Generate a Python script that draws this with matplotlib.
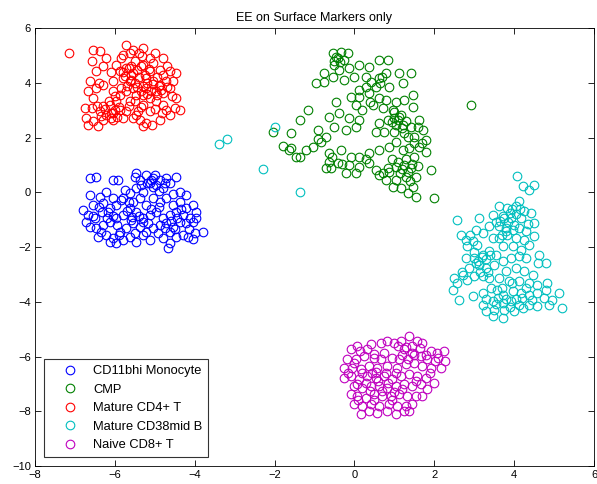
import matplotlib
matplotlib.use("Agg")
import matplotlib.pyplot as plt

plt.rcParams['font.family'] = ['Liberation Sans', 'DejaVu Sans']

labels = ["CD11bhi Monocyte", "CMP", "Mature CD4+ T", "Mature CD38mid B", "Naive CD8+ T"]
colors = ["#0000ff", "#008000", "#ff0000", "#00bfbf", "#bf00bf"]

# embedded coordinates (x, y) per population
mono_pts = [
    (-6.625, 0.51), (-6.46, 0.57), (-6.04, 0.45), (-5.92, 0.45), (-5.46, 0.69), (-5.21, 0.63),
    (-5.04, 0.51), (-4.875, 0.45), (-4.71, 0.51), (-4.46, 0.57), (-5.125, 0.33), (-4.96, 0.26),
    (-4.79, 0.14), (-4.625, 0.33), (-4.375, 0.02), (-4.21, -0.10), (-6.625, -0.10), (-6.375, -0.16),
    (-6.21, 0.02), (-6.04, -0.22), (-6.29, -0.41), (-6.54, -0.47), (-6.79, -0.65), (-6.67, -0.83),
    (-6.5, -0.95), (-6.33, -0.71), (-6.125, -0.59), (-5.96, -0.47), (-5.79, -0.22), (-5.625, -0.04),
    (-5.46, 0.14), (-5.29, 0.02), (-5.54, -0.34), (-5.375, -0.22), (-5.21, -0.47), (-5.04, -0.22),
    (-4.875, -0.34), (-4.71, -0.22), (-4.54, -0.47), (-4.375, -0.34), (-4.21, -0.59), (-4.04, -0.47),
    (-3.96, -0.71), (-4.125, -0.95), (-4.29, -0.83), (-4.46, -0.71), (-4.625, -0.83), (-4.79, -0.95),
    (-4.96, -0.71), (-5.125, -0.83), (-5.29, -0.95), (-5.46, -0.71), (-5.625, -0.59), (-5.79, -0.83),
    (-5.96, -0.95), (-6.125, -1.08), (-6.29, -1.20), (-6.46, -1.32), (-6.625, -1.26), (-6.71, -1.08),
    (-6.21, -1.56), (-6.04, -1.68), (-5.875, -1.44), (-5.71, -1.32), (-5.54, -1.14), (-5.375, -1.26),
    (-5.21, -1.44), (-5.04, -1.32), (-4.875, -1.20), (-4.71, -1.14), (-4.54, -1.26), (-4.375, -1.08),
    (-4.21, -1.14), (-4.04, -1.08), (-3.96, -0.95), (-5.29, -1.56), (-5.125, -1.74), (-5.46, -1.81),
    (-5.625, -1.62), (-5.79, -1.74), (-5.96, -1.87), (-6.125, -1.81), (-4.79, -1.68), (-4.625, -1.87),
    (-4.67, -2.05), (-4.46, -1.62), (-4.29, -1.56), (-4.17, -1.62), (-4.0, -1.50), (-3.79, -1.44),
    (-6.42, -1.62), (-5.5, 0.57), (-5.0, 0.63), (-5.375, 0.45), (-5.75, 0.08), (-6.17, -0.71),
    (-5.58, -0.89), (-4.625, -1.44), (-5.17, -1.14), (-4.92, -1.50),
    (-5.2, 0.35), (-5.05, 0.2), (-4.9, 0.05), (-5.35, 0.25), (-5.1, 0.45), (-4.75, 0.35),
    (-4.55, -0.05), (-4.45, -0.95), (-4.6, -1.05), (-4.75, -1.3), (-4.5, -1.35), (-4.35, -0.6),
    (-5.4, -0.85), (-5.6, -1.0), (-5.7, -0.7), (-5.95, -1.2), (-6.05, -0.85), (-6.2, -0.95),
    (-6.4, -0.55), (-6.55, -0.85), (-5.85, -0.3), (-5.65, -0.35), (-5.1, -0.6), (-4.9, -0.55),
    (-5.3, -1.1), (-5.9, -1.55), (-4.15, -1.35), (-4.05, -1.7), (-6.35, -1.45), (-5.5, -1.5),
]

cmp_pts = [
    (-0.54, 5.08), (-0.33, 5.14), (-0.17, 5.08), (-0.42, 4.89), (-0.25, 4.83), (-0.5, 4.65),
    (-0.375, 4.47), (-0.125, 4.53), (0.125, 4.65), (0.375, 4.59), (0.625, 4.83), (0.83, 4.83),
    (-0.75, 4.34), (-0.96, 3.98), (-0.75, 4.04), (-0.54, 4.22), (-0.25, 4.10), (0.0, 4.22),
    (0.29, 4.22), (0.42, 4.04), (0.625, 4.16), (0.79, 4.34), (1.125, 4.34), (1.42, 4.34),
    (1.21, 3.98), (0.875, 3.86), (0.54, 3.86), (0.29, 3.86), (0.125, 3.73), (-0.08, 3.49),
    (0.125, 3.49), (0.375, 3.61), (0.625, 3.43), (0.79, 3.37), (1.04, 3.31), (1.25, 3.37),
    (1.46, 3.55), (-0.46, 3.31), (0.04, 3.19), (0.46, 3.19), (0.71, 3.07), (0.96, 3.00),
    (1.17, 2.82), (1.46, 3.13), (1.625, 2.64), (1.42, 2.40), (1.21, 2.46), (1.0, 2.70),
    (0.83, 2.64), (0.625, 2.52), (0.54, 2.21), (0.75, 2.21), (1.0, 2.21), (1.25, 2.15),
    (1.5, 2.03), (1.71, 2.27), (1.79, 1.91), (-0.625, 2.76), (-0.375, 2.88), (-0.125, 2.70),
    (0.125, 2.64), (0.04, 2.40), (-0.21, 2.27), (-0.5, 2.40), (-1.17, 3.00), (-1.375, 2.64),
    (-1.58, 2.15), (-0.92, 2.27), (-0.71, 2.03), (-0.83, 1.85), (-1.04, 1.66), (-1.21, 1.54),
    (-1.46, 1.30), (-1.58, 1.60), (-1.375, 1.30), (-0.625, 1.42), (-0.33, 1.54), (-0.08, 1.30),
    (0.125, 1.30), (0.375, 1.42), (0.625, 1.54), (0.875, 1.66), (1.04, 1.85), (1.21, 1.54),
    (1.375, 1.60), (1.625, 1.66), (1.79, 1.48), (-0.625, 1.12), (-0.42, 1.06), (-0.125, 0.99),
    (0.125, 0.93), (0.375, 1.06), (0.54, 0.81), (0.71, 0.69), (0.875, 0.75), (1.04, 0.93),
    (1.25, 0.99), (1.42, 0.87), (1.54, 0.57), (1.29, 0.57), (1.04, 0.45), (0.79, 0.45),
    (0.625, 0.63), (0.96, 0.20), (1.17, 0.14), (1.33, -0.04), (1.46, 0.20), (1.54, -0.16),
    (-0.71, 0.87), (-0.58, 0.87), (-0.21, 0.69), (0.04, 0.69), (1.92, 0.81), (2.0, -0.22),
    (1.125, 2.76), (1.0, 2.94), (1.33, 2.03), (2.93, 3.19), (-2.05, 2.2), (-1.8, 1.7),
    (-1.65, 1.55),
    (1.1, 1.1), (1.2, 0.85), (1.3, 1.2), (1.35, 0.75), (1.45, 1.05), (1.15, 0.7),
    (0.95, 1.2), (1.5, 1.3), (0.95, 2.55), (1.05, 2.45), (1.2, 2.35), (1.1, 2.65),
    (1.3, 2.6), (-0.45, 4.95), (-0.35, 4.75), (-0.5, 4.8), (0.7, 4.2), (0.65, 4.0),
    (0.4, 3.3), (0.2, 3.0), (1.6, 2.4), (1.7, 1.8), (1.5, 1.8), (-0.9, 1.95),
    (-0.55, 1.3), (-0.3, 1.05), (0.3, 1.2), (1.6, 0.95), (1.4, 0.4), (0.85, 0.9),
]

cd4_pts = [
    (-5.71, 5.39), (-5.54, 5.21), (-5.29, 5.27), (-5.625, 5.09), (-5.0, 5.09), (-4.79, 4.90),
    (-5.33, 4.97), (-5.125, 4.90), (-5.79, 5.03), (-6.54, 5.21), (-6.375, 5.15), (-6.58, 4.78),
    (-6.21, 4.90), (-6.46, 4.42), (-6.63, 4.05), (-6.67, 3.69), (-6.46, 3.81), (-6.29, 3.93),
    (-6.54, 3.44), (-6.75, 3.08), (-6.58, 3.08), (-6.71, 2.71), (-6.54, 2.59), (-6.67, 2.44),
    (-5.96, 4.66), (-5.875, 4.42), (-5.71, 4.54), (-5.79, 4.17), (-6.04, 4.05), (-5.625, 4.05),
    (-5.54, 3.81), (-5.71, 3.69), (-5.875, 3.56), (-6.04, 3.69), (-5.46, 3.56), (-5.625, 3.32),
    (-5.96, 3.32), (-6.125, 3.20), (-6.29, 3.14), (-6.375, 2.96), (-6.21, 2.83), (-6.04, 2.90),
    (-5.875, 3.02), (-5.71, 2.96), (-5.79, 2.71), (-6.04, 2.65), (-6.29, 2.65), (-6.42, 2.41),
    (-5.29, 4.66), (-5.04, 4.72), (-5.125, 4.42), (-4.875, 4.48), (-4.79, 4.30), (-4.625, 4.42),
    (-4.46, 4.36), (-5.21, 4.17), (-5.04, 4.05), (-4.875, 3.93), (-4.71, 4.05), (-5.21, 3.81),
    (-4.96, 3.69), (-4.79, 3.63), (-4.625, 3.81), (-4.58, 3.50), (-5.125, 3.44), (-5.29, 3.56),
    (-4.96, 3.32), (-4.79, 3.20), (-5.29, 3.20), (-5.125, 2.96), (-5.42, 2.96), (-5.54, 2.71),
    (-5.375, 2.65), (-5.21, 2.53), (-5.08, 2.44), (-4.46, 3.44), (-4.5, 3.08), (-4.71, 3.02),
    (-4.625, 2.83), (-4.375, 3.02), (-4.83, 2.90), (-4.875, 2.65), (-5.29, 2.41), (-5.46, 2.83),
    (-5.6, 4.3), (-5.5, 4.0), (-5.4, 4.2), (-5.7, 3.9), (-5.3, 3.9), (-5.9, 3.1), (-6.1, 2.9),
    (-6.0, 3.0), (-5.2, 4.0), (-5.1, 3.7), (-4.9, 3.9), (-5.6, 4.6), (-5.5, 4.8), (-5.8, 4.4),
    (-7.15, 5.09),
    (-5.65, 4.55), (-5.55, 4.35), (-5.75, 4.25), (-5.45, 4.45), (-5.35, 4.6), (-5.6, 4.1),
    (-5.45, 3.85), (-5.35, 3.7), (-5.25, 4.3), (-5.15, 4.5), (-5.05, 3.95), (-4.95, 3.55),
    (-4.85, 3.75), (-4.7, 3.85), (-4.95, 4.2), (-5.2, 3.6), (-5.85, 3.8), (-6.0, 3.5),
    (-6.15, 3.35), (-6.25, 3.05), (-6.45, 3.15), (-5.95, 2.75), (-6.1, 2.7), (-6.35, 2.8),
    (-5.65, 3.15), (-5.5, 3.35), (-5.85, 4.9), (-5.4, 5.1), (-6.1, 4.4), (-6.3, 4.6),
    (-6.4, 4.0), (-4.7, 4.6), (-4.55, 4.05), (-5.0, 3.05), (-5.35, 3.1),
]

cd38_pts = [
    (4.08, 0.58), (4.21, 0.22), (4.375, 0.09), (4.5, 0.28), (4.125, -0.33), (3.625, -0.52),
    (3.83, -0.58), (4.04, -0.52), (4.25, -0.70), (4.42, -0.76), (3.46, -0.82), (3.71, -0.88),
    (3.92, -0.94), (4.17, -0.94), (4.5, -1.12), (2.58, -1.0), (3.125, -0.94), (3.375, -1.25),
    (3.625, -1.25), (3.79, -1.31), (3.96, -1.37), (4.125, -1.31), (4.29, -1.43), (3.04, -1.37),
    (3.21, -1.49), (2.67, -1.55), (2.79, -1.73), (2.96, -1.79), (2.83, -1.98), (3.08, -1.92),
    (3.46, -1.67), (3.625, -1.67), (3.83, -1.55), (4.04, -1.67), (4.25, -1.73), (4.375, -1.92),
    (3.71, -1.98), (3.96, -1.98), (4.17, -2.10), (3.375, -2.16), (3.54, -2.28), (3.21, -2.28),
    (3.0, -2.40), (2.79, -2.40), (2.875, -2.77), (3.125, -2.65), (3.29, -2.77), (3.5, -2.65),
    (3.71, -2.52), (3.92, -2.40), (4.125, -2.34), (4.29, -2.40), (4.625, -2.28), (4.79, -2.59),
    (3.79, -2.89), (4.04, -2.77), (4.25, -2.89), (4.46, -3.01), (3.0, -3.07), (3.21, -3.07),
    (3.375, -3.13), (2.71, -3.01), (2.5, -3.13), (2.58, -3.32), (2.83, -3.19), (3.625, -3.13),
    (3.875, -3.26), (4.125, -3.26), (4.375, -3.32), (4.58, -3.38), (4.83, -3.32), (4.79, -3.56),
    (2.46, -3.56), (2.625, -3.93), (2.96, -3.80), (3.21, -3.68), (3.42, -3.50), (3.58, -3.56),
    (3.71, -3.74), (3.96, -3.62), (4.17, -3.68), (4.375, -3.74), (4.58, -3.68), (4.75, -3.86),
    (4.96, -3.93), (5.125, -3.68), (5.21, -4.23), (3.21, -4.11), (3.46, -3.99), (3.71, -4.05),
    (3.92, -3.99), (4.125, -4.11), (4.375, -4.11), (4.58, -4.17), (4.875, -4.11), (3.29, -4.35),
    (3.5, -4.29), (3.75, -4.29), (4.0, -4.35), (4.21, -4.23), (3.46, -4.53), (3.71, -4.60),
    (-3.4, 1.75), (-3.18, 1.95), (-2.3, 0.85), (-1.37, 0.0), (-1.98, 2.4),
    (3.75, -0.95), (3.85, -1.1), (3.65, -1.05), (3.9, -0.75), (3.8, -1.4), (3.7, -1.55),
    (4.0, -1.2), (3.55, -1.1), (4.05, -0.8), (3.95, -0.6), (4.15, -0.6), (3.1, -2.5),
    (3.2, -2.35), (3.05, -2.6), (3.3, -2.45), (3.0, -2.2), (3.15, -2.9), (3.35, -2.9),
    (3.4, -2.3), (3.6, -3.85), (3.8, -3.9), (3.9, -4.2), (3.55, -4.1), (4.05, -3.9),
    (4.2, -3.85), (3.7, -3.5), (4.3, -3.5), (4.45, -3.95), (3.95, -3.3), (3.3, -3.9),
    (4.6, -2.6), (4.5, -1.6), (4.35, -1.15), (2.9, -1.55), (2.7, -2.9),
]

cd8_pts = [
    (-0.26, -6.77), (-0.09, -5.74), (0.075, -5.62), (0.325, -5.74), (0.41, -5.56), (0.66, -5.50),
    (0.825, -5.43), (0.99, -5.50), (1.16, -5.43), (1.37, -5.25), (1.575, -5.43), (1.7, -5.50),
    (1.91, -5.80), (2.075, -5.86), (2.24, -5.80), (-0.175, -6.10), (0.03, -6.10), (0.24, -5.98),
    (0.49, -6.04), (0.74, -5.86), (0.95, -6.04), (1.24, -5.74), (1.45, -5.86), (1.66, -5.98),
    (1.825, -6.10), (2.03, -6.17), (2.28, -6.17), (-0.05, -6.41), (0.16, -6.47), (0.37, -6.35),
    (0.575, -6.41), (0.825, -6.35), (1.075, -6.41), (1.28, -6.29), (1.49, -6.23), (1.7, -6.35),
    (1.91, -6.41), (2.16, -6.41), (-0.09, -6.71), (0.12, -6.83), (0.325, -6.71), (0.53, -6.77),
    (0.74, -6.71), (0.95, -6.83), (1.16, -6.71), (1.37, -6.65), (1.575, -6.71), (1.78, -6.77),
    (1.99, -6.96), (-0.01, -7.08), (0.2, -7.14), (0.41, -7.08), (0.62, -7.08), (0.825, -7.14),
    (1.03, -7.08), (1.24, -7.02), (1.45, -7.08), (1.66, -7.02), (1.825, -7.20), (-0.09, -7.38),
    (0.075, -7.44), (0.28, -7.50), (0.49, -7.38), (0.7, -7.44), (0.91, -7.44), (1.12, -7.38),
    (1.325, -7.44), (1.53, -7.44), (1.7, -7.44), (-0.01, -7.75), (0.2, -7.81), (0.41, -7.75),
    (0.62, -7.81), (0.87, -7.75), (1.075, -7.81), (1.28, -7.81), (1.45, -7.75), (0.16, -8.11),
    (0.37, -7.99), (0.575, -8.05), (0.825, -7.99), (1.03, -8.11), (1.24, -7.99), (1.37, -7.99),
    (0.075, -7.02), (-0.26, -6.41), (0.66, -6.10), (1.12, -6.10),
    (0.45, -6.6), (0.6, -6.9), (0.55, -6.55), (0.8, -6.6), (0.7, -7.25), (0.85, -6.95),
    (0.3, -6.95), (0.2, -6.6), (0.4, -7.25), (1.0, -7.3), (1.05, -6.6), (1.3, -5.65),
    (1.45, -5.6), (1.5, -5.95), (1.2, -5.95), (1.65, -5.7), (1.8, -5.95), (1.35, -6.1),
    (0.5, -5.9), (0.15, -5.8), (0.0, -6.25), (-0.15, -6.6), (0.1, -7.6), (0.5, -7.6),
    (0.95, -7.6), (1.2, -7.2), (1.55, -6.9), (1.9, -6.6), (2.1, -6.05), (1.1, -5.6),
]

populations = [mono_pts, cmp_pts, cd4_pts, cd38_pts, cd8_pts]

fig = plt.figure(figsize=(5.97, 4.84), dpi=100)
ax = fig.add_axes([0.0586, 0.0372, 0.9364, 0.9049])

for pts, lab, col in zip(populations, labels, colors):
    xs = [p[0] for p in pts]
    ys = [p[1] for p in pts]
    ax.plot(xs, ys, linestyle='none', marker='o', markersize=6.2,
            markerfacecolor='none', markeredgecolor=col, markeredgewidth=0.8, label=lab)

ax.set_xlim(-8, 6)
ax.set_ylim(-10, 6)
ax.set_xticks(range(-8, 7, 2))
ax.set_yticks(range(-10, 7, 2))
ax.tick_params(direction='in', length=4, width=0.6, labelsize=8, top=True, right=True,
               labeltop=False, labelright=False, pad=3)
for sp in ax.spines.values():
    sp.set_linewidth(0.6)

ax.set_title("EE on Surface Markers only", fontsize=9, pad=5)

leg = ax.legend(loc='lower left', bbox_to_anchor=(0.0, 0.0), fontsize=9.3, frameon=True,
                fancybox=False, edgecolor='black', handlelength=3.1, handletextpad=0.25,
                borderpad=0.45, labelspacing=0.5, borderaxespad=0.7)
leg.get_frame().set_linewidth(0.8)

fig.savefig("out.png", dpi=100)
